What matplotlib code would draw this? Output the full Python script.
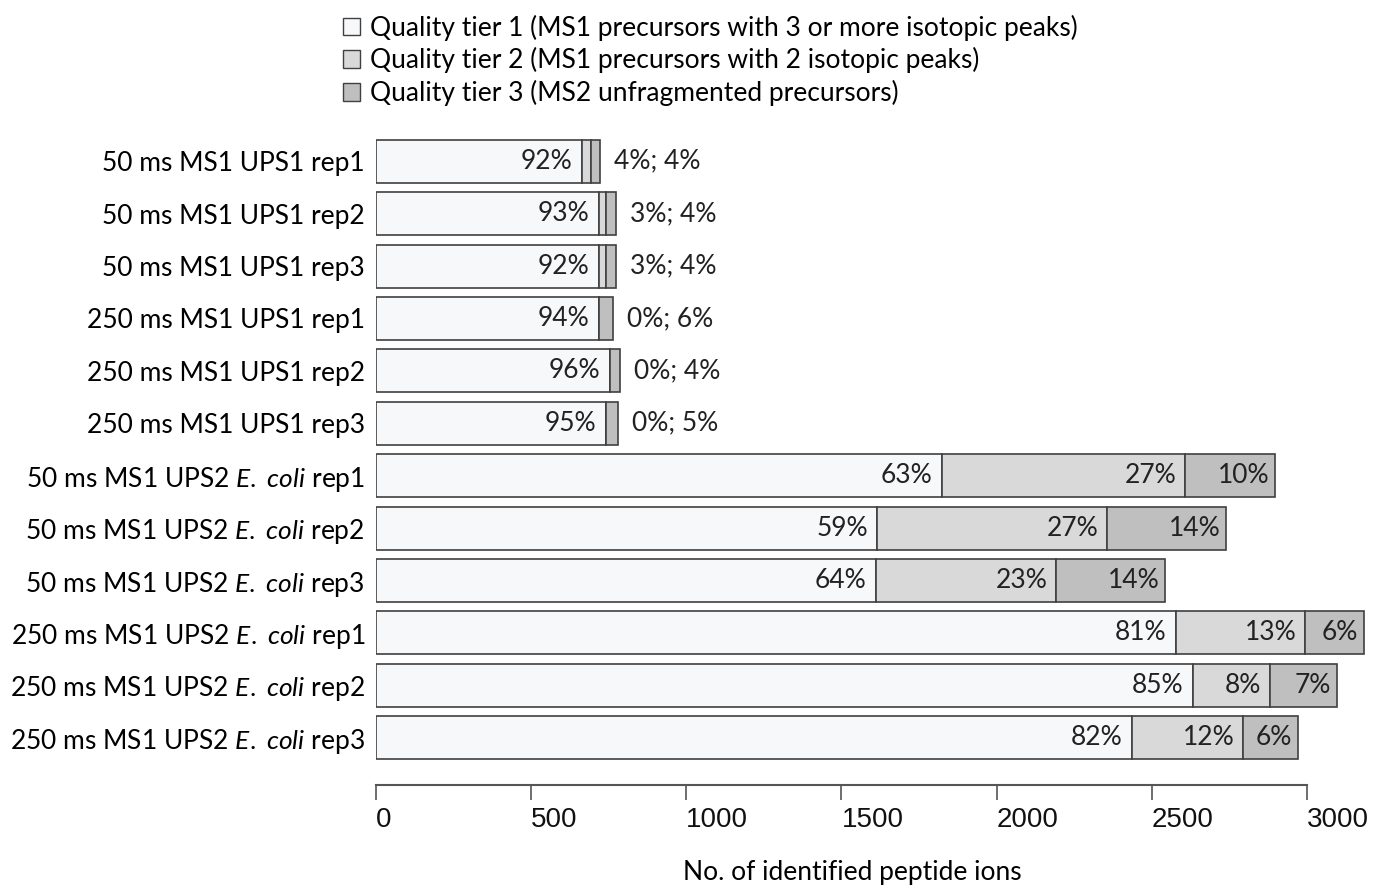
import matplotlib
matplotlib.use("Agg")
import numpy as np
import matplotlib.pyplot as plt
from matplotlib.patches import Patch
from matplotlib import font_manager

plt.rcParams['font.family'] = ['Lato', 'DejaVu Sans']
plt.rcParams['mathtext.fontset'] = 'custom'
plt.rcParams['mathtext.rm'] = 'Lato'
plt.rcParams['mathtext.it'] = 'Lato:italic'

# runs (top to bottom)
runs = [
    "50 ms MS1 UPS1 rep1",
    "50 ms MS1 UPS1 rep2",
    "50 ms MS1 UPS1 rep3",
    "250 ms MS1 UPS1 rep1",
    "250 ms MS1 UPS1 rep2",
    "250 ms MS1 UPS1 rep3",
    r"50 ms MS1 UPS2 $\mathit{E.}$ $\mathit{coli}$ rep1",
    r"50 ms MS1 UPS2 $\mathit{E.}$ $\mathit{coli}$ rep2",
    r"50 ms MS1 UPS2 $\mathit{E.}$ $\mathit{coli}$ rep3",
    r"250 ms MS1 UPS2 $\mathit{E.}$ $\mathit{coli}$ rep1",
    r"250 ms MS1 UPS2 $\mathit{E.}$ $\mathit{coli}$ rep2",
    r"250 ms MS1 UPS2 $\mathit{E.}$ $\mathit{coli}$ rep3",
]
# total identified peptide ions per run
totals = [722, 773, 773, 764, 786, 780, 2897, 2739, 2543, 3184, 3097, 2971]
# share of each quality tier (%)
tier1_pct = [92, 93, 92, 94, 96, 95, 63, 59, 64, 81, 85, 82]
tier2_pct = [4, 3, 3, 0, 0, 0, 27, 27, 23, 13, 8, 12]
tier3_pct = [4, 4, 4, 6, 4, 5, 10, 14, 14, 6, 7, 6]

legend_labels = [
    "Quality tier 1 (MS1 precursors with 3 or more isotopic peaks)",
    "Quality tier 2 (MS1 precursors with 2 isotopic peaks)",
    "Quality tier 3 (MS2 unfragmented precursors)",
]
colors = ["#f7f8fa", "#d9d9d9", "#bfbfbf"]
edge = "#404040"
fs = 19

# narrow font for the axis numbers if it is there
names = {f.name for f in font_manager.fontManager.ttflist}
tick_font = "Liberation Sans Narrow" if "Liberation Sans Narrow" in names else "Liberation Sans"
tick_fs = 24 if tick_font == "Liberation Sans Narrow" else 20

totals = np.array(totals, float)
p1 = np.array(tier1_pct, float)
p2 = np.array(tier2_pct, float)
p3 = np.array(tier3_pct, float)
psum = p1 + p2 + p3
w1 = totals * p1 / psum
w2 = totals * p2 / psum
w3 = totals * p3 / psum

fig = plt.figure(figsize=(13.75, 8.88), dpi=100)
ax = fig.add_axes([376 / 1375, 1 - 785 / 888, (1369 - 376) / 1375, (785 - 135) / 888])

y = np.arange(len(runs))
h = 0.82
ax.barh(y, w1, height=h, color=colors[0], edgecolor=edge, linewidth=1.2)
ax.barh(y, w2, left=w1, height=h, color=colors[1], edgecolor=edge, linewidth=1.2)
ax.barh(y, w3, left=w1 + w2, height=h, color=colors[2], edgecolor=edge, linewidth=1.2)

for i in range(len(runs)):
    ax.annotate(f"{tier1_pct[i]}%", (w1[i], y[i]), xytext=(-7, 0), textcoords="offset points",
                ha="right", va="center", fontsize=fs, color="#222222")
    if totals[i] < 1500:
        ax.annotate(f"{tier2_pct[i]}%; {tier3_pct[i]}%", (totals[i], y[i]), xytext=(10, 0),
                    textcoords="offset points", ha="left", va="center", fontsize=fs, color="#222222")
    else:
        ax.annotate(f"{tier2_pct[i]}%", (w1[i] + w2[i], y[i]), xytext=(-6, 0), textcoords="offset points",
                    ha="right", va="center", fontsize=fs, color="#222222")
        ax.annotate(f"{tier3_pct[i]}%", (totals[i], y[i]), xytext=(-4, 0), textcoords="offset points",
                    ha="right", va="center", fontsize=fs, color="#222222")

ax.set_xlim(0, 3200)
ax.set_ylim(11.9, -0.5)
ax.set_yticks(y)
ax.set_yticklabels(runs, fontsize=fs)
ax.tick_params(axis="y", length=0, pad=8)

xt = np.arange(0, 3001, 500)
ax.set_xticks(xt)
ax.set_xticklabels([str(v) for v in xt], fontsize=tick_fs, family=tick_font, ha="left", color="#111111")
ax.tick_params(axis="x", length=11, width=1.2, color="#555555", pad=5)
ax.set_xlabel("No. of identified peptide ions", fontsize=fs)
ax.xaxis.set_label_coords((852 - 376) / (1369 - 376), -0.115)

for s in ["top", "right", "left"]:
    ax.spines[s].set_visible(False)
ax.spines["bottom"].set_bounds(0, 3000)
ax.spines["bottom"].set_color("#555555")
ax.spines["bottom"].set_linewidth(1.5)

handles = [Patch(facecolor=c, edgecolor=edge, linewidth=1.0) for c in colors]
fig.legend(handles, legend_labels, loc="upper left", bbox_to_anchor=(328 / 1375, 1.0),
           frameon=False, fontsize=fs, handlelength=0.65, handleheight=0.65,
           handletextpad=0.4, labelspacing=0.25, borderaxespad=0.15)

fig.savefig("out.png", dpi=100)
